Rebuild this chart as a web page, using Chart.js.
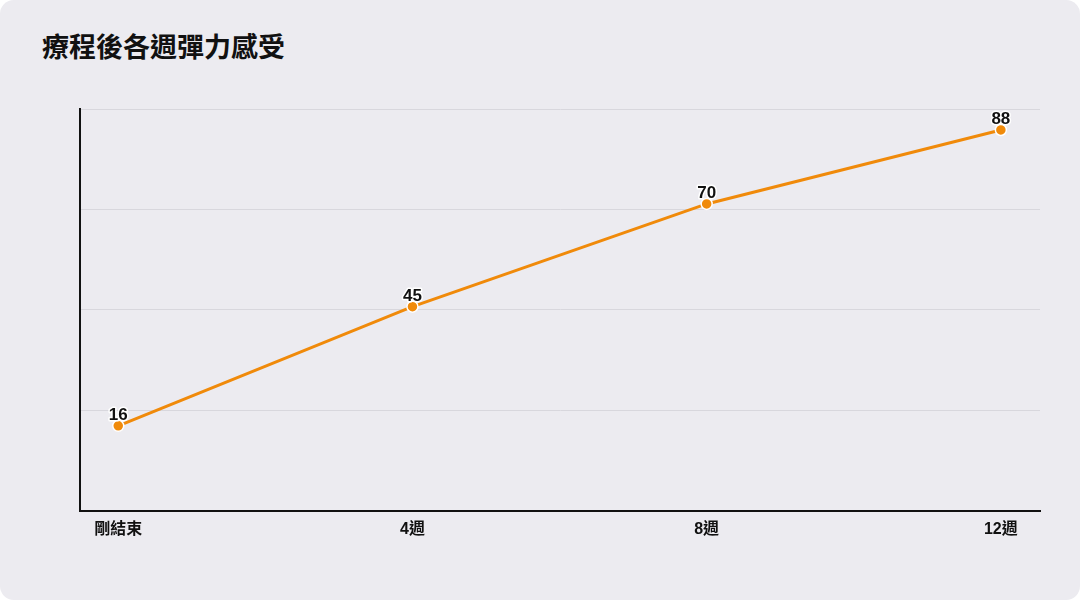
<!DOCTYPE html>
<html>
<head>
<meta charset="utf-8">
<script src="https://cdn.jsdelivr.net/npm/chart.js@4"></script>
<style>
  html, body { margin: 0; padding: 0; background: #ffffff; }
  #card { position: relative; width: 1080px; height: 600px; background: #ecebf0; border-radius: 14px; overflow: hidden; }
  #title { position: absolute; left: 42px; top: 29px; margin: 0; font: bold 27px "Noto Sans CJK TC", "Noto Sans", sans-serif; color: #111; line-height: 34px; letter-spacing: 0; }
  canvas { position: absolute; left: 0; top: 0; }
</style>
</head>
<body>
<div id="card">
  <h1 id="title">療程後各週彈力感受</h1>
  <canvas id="c" width="1080" height="600"></canvas>
</div>
<script>
const categories = ["剛結束", "4週", "8週", "12週"];
const values = [16, 45, 70, 88];
const yMin = -4.73;
const yMax = 93.1;

const FONT = '"Liberation Sans", "Noto Sans CJK TC", sans-serif';

const labelPlugin = {
  id: 'pointLabels',
  afterDatasetsDraw(chart) {
    const ctx = chart.ctx;
    const meta = chart.getDatasetMeta(0);
    ctx.save();
    ctx.font = 'bold 17px ' + FONT;
    ctx.textAlign = 'center';
    ctx.textBaseline = 'alphabetic';
    ctx.lineJoin = 'round';
    meta.data.forEach((pt, i) => {
      const t = String(values[i]);
      ctx.lineWidth = 3;
      ctx.strokeStyle = '#ffffff';
      ctx.strokeText(t, pt.x, pt.y - 6);
      ctx.fillStyle = '#111111';
      ctx.fillText(t, pt.x, pt.y - 6);
    });
    ctx.restore();
  }
};

new Chart(document.getElementById('c'), {
  type: 'line',
  data: {
    datasets: [{
      data: values.map((v, i) => ({ x: i, y: v })),
      borderColor: '#f08a0a',
      borderWidth: 3,
      backgroundColor: '#f08a0a',
      pointBackgroundColor: '#f08a0a',
      pointBorderColor: '#ffffff',
      pointBorderWidth: 1.5,
      pointRadius: 5.5,
      tension: 0,
      fill: false
    }]
  },
  options: {
    responsive: false,
    animation: false,
    layout: { padding: { left: 80, right: 40, top: 109, bottom: 59 } },
    plugins: { legend: { display: false }, tooltip: { enabled: false }, title: { display: false } },
    scales: {
      x: {
        type: 'linear',
        min: -0.13,
        max: 3.133,
        afterBuildTicks(scale) { scale.ticks = categories.map((c, i) => ({ value: i })); },
        afterFit(scale) { scale.height = 30; },
        grid: { display: false, drawTicks: false },
        border: { display: true, color: '#111111', width: 2 },
        ticks: {
          padding: 9,
          color: '#111111',
          font: { family: FONT, size: 16, weight: 'bold' },
          maxRotation: 0,
          autoSkip: false,
          callback: (v) => categories[v]
        }
      },
      y: {
        type: 'linear',
        min: yMin,
        max: yMax,
        afterBuildTicks(scale) {
          const s = (yMax - yMin) / 4;
          scale.ticks = [0, 1, 2, 3, 4].map(k => ({ value: yMin + k * s }));
        },
        afterFit(scale) { scale.width = 0; },
        grid: { color: '#d8d7dd', lineWidth: 1, drawTicks: false },
        border: { display: true, color: '#111111', width: 2 },
        ticks: { display: false }
      }
    }
  },
  plugins: [labelPlugin]
});
</script>
</body>
</html>
